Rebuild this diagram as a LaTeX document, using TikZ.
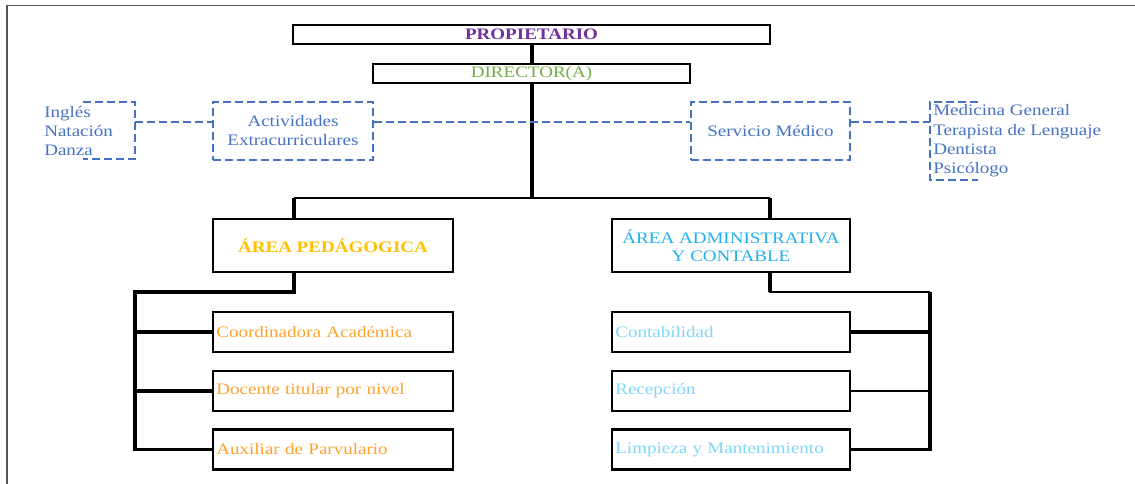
\documentclass[tikz,border=0pt]{standalone}
\usepackage{fontspec}
\setmainfont{Liberation Serif}[FakeStretch=1.19]
\usetikzlibrary{calc}
\definecolor{cprop}{HTML}{7030A0}
\definecolor{cdir}{HTML}{70AD47}
\definecolor{cped}{HTML}{FFC000}
\definecolor{cadm}{HTML}{21B0EE}
\definecolor{corange}{HTML}{FFA12B}
\definecolor{clight}{HTML}{7FD6FA}
\definecolor{cblue}{HTML}{4472C4}
\definecolor{cframe}{HTML}{555555}
\tikzset{
  topbox/.style={draw, line width=1.3pt, inner sep=0pt, minimum height=14.25pt},
  areabox/.style={draw, line width=1.6pt, inner sep=0pt, minimum height=39.75pt, align=center},
  childbox/.style={draw, line width=1.6pt, inner xsep=2.5pt, inner ysep=0pt, minimum height=30pt, align=left},
  dashbox/.style={draw=cblue, line width=1.4pt, dash pattern=on 6pt off 3pt, inner sep=0pt, align=center, text=cblue},
  dashline/.style={cblue, line width=1.4pt, dash pattern=on 6pt off 3pt},
  conn/.style={line width=2.3pt},
  connthin/.style={line width=1.6pt},
  txt/.style={font=\fontsize{12}{14.25}\selectfont}
}
\begin{document}
\begin{tikzpicture}[x=0.75pt,y=-0.75pt, every node/.style={txt}]
\useasboundingbox (0,0) rectangle (1135,484);
% frame
\draw[cframe, line width=1.4pt] (7,484) -- (7,5.5) -- (1135,5.5);

% top boxes
\node[topbox, minimum width=357.75pt, text=cprop, font=\fontsize{12}{14.25}\selectfont\bfseries] (prop) at (531.5,34.5) {PROPIETARIO};
\node[topbox, minimum width=237.75pt, text=cdir] (dir) at (531.5,73.5) {DIRECTOR(A)};

% area boxes
\node[areabox, minimum width=180pt, text=cped, font=\fontsize{12}{14.25}\selectfont\bfseries] (ped) at (333,245.5) {ÁREA PEDÁGOGICA};
\node[areabox, minimum width=178.5pt, text=cadm, font=\fontsize{12}{13.5}\selectfont] (adm) at (731,245.5) {ÁREA ADMINISTRATIVA\\Y CONTABLE};

% children left
\node[childbox, text width=175pt, text=corange] (c1) at (333,332) {Coordinadora Académica};
\node[childbox, text width=175pt, text=corange] (c2) at (333,391) {Docente titular por nivel};
\node[childbox, text width=175pt, text=corange] (c3) at (333,449.5) {Auxiliar de Parvulario};
% children right
\node[childbox, text width=173.5pt, text=clight] (d1) at (731,332) {Contabilidad};
\node[childbox, text width=173.5pt, text=clight] (d2) at (731,391) {Recepción};
\node[childbox, text width=173.5pt, text=clight] (d3) at (731,449.5) {Limpieza y Mantenimiento};

% dashed boxes
\node[dashbox, minimum width=120pt, minimum height=43.5pt] (act) at (293,131) {Actividades\\Extracurriculares};
\node[dashbox, minimum width=119.25pt, minimum height=43.5pt] (serv) at (770.5,131) {Servicio Médico};

% lists
\node[anchor=west, align=left, inner sep=0pt, text=cblue] (ll) at (44,131) {Inglés\\Natación\\Danza};
\node[anchor=west, align=left, inner sep=0pt, text=cblue, font=\fontsize{12}{14.5}\selectfont] (rl) at (933,141) {Medicina General\\Terapista de Lenguaje\\Dentista\\Psicólogo};

\coordinate (dl) at (0,122);
\coordinate (llr) at (135,122);
\coordinate (rlr) at (930,122);
\draw[dashline] (83,102) -- (135,102) -- (135,159) -- (83,159);
\draw[dashline] (978,102) -- (930,102) -- (930,180) -- (978,180);

% main connectors
\coordinate (trunk) at (532,198);
\coordinate (jl) at (294,198);
\coordinate (jr) at (770,198);
\draw[conn] (prop.south -| trunk) -- (dir.north -| trunk);
\draw[conn] (dir.south -| trunk) -- (trunk);
\draw[connthin] (jl) -- (jr);
\draw[conn] (jl) -- (jl |- ped.north);
\draw[conn] (jr) -- (jr |- adm.north);

% dashed connectors (over trunk)
\draw[dashline] (llr) -- (act.west |- dl);
\draw[dashline] (act.east |- dl) -- (serv.west |- dl);
\draw[dashline] (serv.east |- dl) -- (rlr);

% left bus
\coordinate (lb) at (135,292);
\draw[conn] (jl |- ped.south) -- (jl |- lb) -- (lb) -- (lb |- c3.west) -- (c3.west);
\draw[conn] (lb |- c1.west) -- (c1.west);
\draw[conn] (lb |- c2.west) -- (c2.west);

% right bus
\coordinate (rb) at (930,292);
\draw[connthin] (jr |- adm.south) -- (jr |- rb) -- (rb);
\draw[conn] (jr |- adm.south) -- (jr |- rb);
\draw[conn] (rb) -- (rb |- d3.east) -- (d3.east);
\draw[conn] (rb |- d1.east) -- (d1.east);
\draw[connthin] (rb |- d2.east) -- (d2.east);
\end{tikzpicture}
\end{document}
